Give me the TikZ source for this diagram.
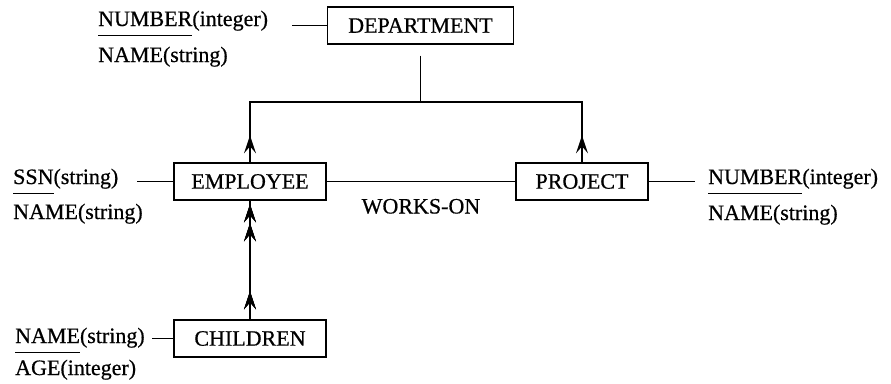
\documentclass[tikz,border=0pt]{standalone}
\usepackage{fontspec}
\setmainfont{Liberation Serif}
\newfontfamily\diagfont[FakeBold=0.6]{Liberation Serif}
\usetikzlibrary{arrows.meta,decorations.markings}

% key attribute: word with a rule set well below its baseline
\newcommand\keyword[1]{\setbox0=\hbox{#1}\rlap{\rule[-10pt]{\wd0}{1pt}}\box0}

\tikzset{
  every node/.style={font=\diagfont\fontsize{22}{26}\selectfont, inner sep=0pt},
  entity/.style={draw, line width=1.3pt, minimum height=37pt},
  attr/.style={anchor=base west},
  link/.style={line width=1.4pt},
  uptip/.style={postaction={decorate}, decoration={markings,
      mark=at position #1 with {\arrow{Stealth[length=18pt,width=12pt,inset=7pt]}}}},
}

\begin{document}
\begin{tikzpicture}[x=1pt, y=-1pt]
\useasboundingbox (0,0) rectangle (891,383);

% entity boxes
\node[entity, minimum width=186pt] (dept) at (420.5,25.5) {DEPARTMENT};
\node[entity, minimum width=152pt] (emp)  at (250,181.5) {EMPLOYEE};
\node[entity, minimum width=132pt] (proj) at (582,181.5) {PROJECT};
\node[entity, minimum width=152pt] (chil) at (250,338.5) {CHILDREN};

% attribute lists
\node[attr] (dnum)  at (98,26)  {\keyword{NUMBER}(integer)};
\node[attr] (dname) at (98,62)  {NAME(string)};
\node[attr] (essn)  at (13,184) {\keyword{SSN}(string)};
\node[attr] (ename) at (13,219) {NAME(string)};
\node[attr] (pnum)  at (708,184) {\keyword{NUMBER}(integer)};
\node[attr] (pname) at (708,220) {NAME(string)};
\node[attr] (cname) at (15,343) {\keyword{NAME}(string)};
\node[attr] (cage)  at (15,375) {AGE(integer)};

% free ends of the attribute ticks
\coordinate (dtick) at (292,25.5);
\coordinate (etick) at (137,181.5);
\coordinate (ptick) at (695,181.5);
\coordinate (ctick) at (152,338.5);

\draw[link] (dtick) -- (dept.west);
\draw[link] (etick) -- (emp.west);
\draw[link] (proj.east) -- (ptick);
\draw[link] (ctick) -- (chil.west);

% hierarchy: DEPARTMENT above EMPLOYEE and PROJECT
\coordinate (fork) at (dept.south |- 0,102);
\draw[link, shorten <=11pt] (dept.south) -- (fork);
\draw[link, uptip=27pt] (emp.north) |- (fork);
\draw[link, uptip=27pt] (proj.north) |- (fork);

% EMPLOYEE above CHILDREN
\draw[link, uptip=28pt, uptip=96pt, uptip=115pt] (chil.north) -- (emp.south);

% WORKS-ON relationship
\draw[link] (emp.east) -- node[midway, anchor=base, yshift=-32pt] (works) {WORKS-ON} (proj.west);
\end{tikzpicture}
\end{document}
